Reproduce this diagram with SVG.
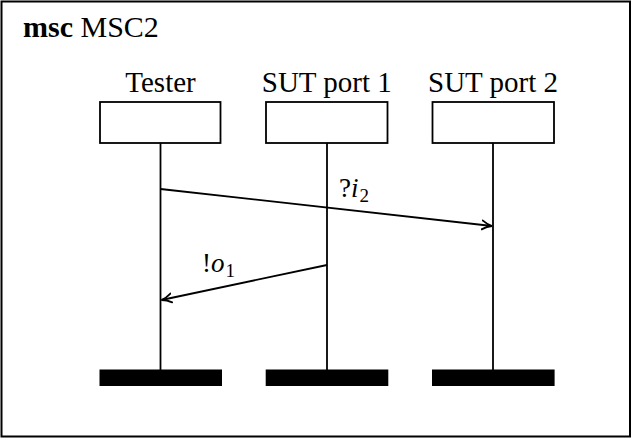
<svg xmlns="http://www.w3.org/2000/svg" width="632" height="438" viewBox="0 0 632 438">
<style>
text { font-family: "Liberation Serif", "Times New Roman", serif; fill: #000; }
.lbl { font-size: 29px; text-anchor: middle; }
.msg { font-family: "Liberation Serif", "Times New Roman", serif; font-size: 27px; }
.sub { font-family: "Liberation Serif", "Times New Roman", serif; font-size: 19px; font-style: normal; }
.it { font-family: "Liberation Serif", "Times New Roman", serif; font-style: italic; }
.head { fill: #fff; stroke: #000; stroke-width: 1.8; }
.life { stroke: #000; stroke-width: 1.8; }
.end { fill: #000; }
.arrow { stroke: #000; stroke-width: 1.8; fill: none; marker-end: url(#ah); }
</style>
<defs>
<marker id="ah" viewBox="0 0 12 12" refX="11" refY="6" markerWidth="12" markerHeight="12" markerUnits="userSpaceOnUse" orient="auto">
<path d="M1,1.5 Q6,5 11,6 Q6,7 1,10.5" fill="none" stroke="#000" stroke-width="1.8" stroke-linecap="round"/>
</marker>
</defs>
<rect x="1.5" y="1.5" width="628.5" height="435" fill="#fff" stroke="#000" stroke-width="2"/>
<text x="23" y="37" font-size="30"><tspan font-weight="bold">msc</tspan> MSC2</text>
<g id="tester">
<text class="lbl" x="160.5" y="92">Tester</text>
<rect class="head" x="100" y="102" width="120.5" height="41"/>
<line class="life" x1="160.5" y1="143" x2="160.5" y2="370"/>
<rect class="end" x="99.5" y="369.5" width="122.5" height="16.5"/>
</g>
<g id="sut1">
<text class="lbl" x="326.8" y="92">SUT port 1</text>
<rect class="head" x="266" y="102" width="121.5" height="41"/>
<line class="life" x1="327" y1="143" x2="327" y2="370"/>
<rect class="end" x="265.7" y="369.5" width="122.6" height="16.5"/>
</g>
<g id="sut2">
<text class="lbl" x="493" y="92">SUT port 2</text>
<rect class="head" x="432.5" y="102" width="121.5" height="41"/>
<line class="life" x1="493" y1="143" x2="493" y2="370"/>
<rect class="end" x="432" y="369.5" width="122.6" height="16.5"/>
</g>
<g id="connectors">
<line class="arrow" x1="160.5" y1="189" x2="492" y2="226"/>
<text class="msg" x="339" y="197">?<tspan class="it">i</tspan><tspan class="sub" dx="1" dy="5">2</tspan></text>
<line class="arrow" x1="327" y1="265" x2="161.5" y2="300"/>
<text class="msg" x="202" y="272">!<tspan class="it">o</tspan><tspan class="sub" dx="1" dy="5">1</tspan></text>
</g>
</svg>
